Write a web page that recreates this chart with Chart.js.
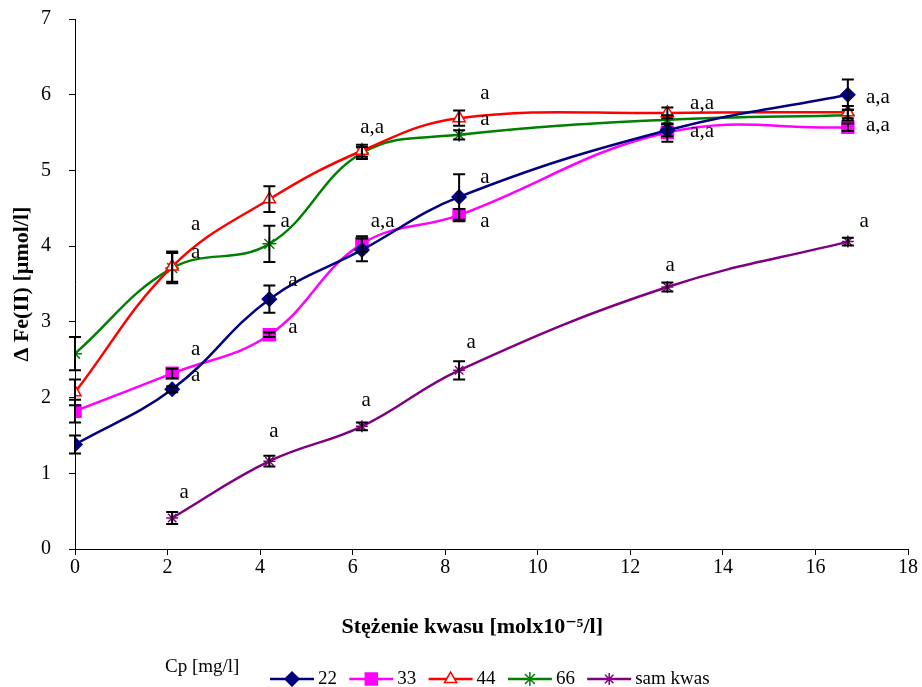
<!DOCTYPE html>
<html><head><meta charset="utf-8">
<script src="https://cdn.jsdelivr.net/npm/chart.js@4.4.1/dist/chart.umd.min.js"></script>
<style>html,body{margin:0;padding:0;background:#fff}</style>
</head><body>
<canvas id="c" width="922" height="687"></canvas>
<script>
// ---- data ----
const xValues = [0, 2.1, 4.2, 6.2, 8.3, 12.8, 16.7];
const seriesNames = ['22', '33', '44', '66', 'sam kwas'];
const s22   = [1.38, 2.11, 3.30, 3.95, 4.65, 5.53, 6.00];
const s33   = [1.82, 2.32, 2.83, 4.03, 4.41, 5.50, 5.57];
const s44   = [2.07, 3.73, 4.62, 5.26, 5.69, 5.76, 5.77];
const s66   = [2.58, 3.71, 4.03, 5.23, 5.47, 5.67, 5.73];
const sKwas = [null, 0.41, 1.16, 1.62, 2.36, 3.46, 4.06];
const err22   = [0.12, 0.04, 0.18, 0.15, 0.30, 0.08, 0.20];
const err33   = [0.15, 0.06, 0.03, 0.10, 0.08, 0.12, 0.05];
const err44   = [0.17, 0.20, 0.17, 0.08, 0.10, 0.07, 0.08];
const err66   = [0.22, 0.20, 0.24, 0.08, 0.06, 0.06, 0.07];
const errKwas = [null, 0.08, 0.07, 0.05, 0.12, 0.06, 0.05];
const xTicks = [0, 2, 4, 6, 8, 10, 12, 14, 16, 18];
const yTicks = [0, 1, 2, 3, 4, 5, 6, 7];
// significance letters (placed in data units)
const annText = ['a','a','a','a','a','a','a','a','a','a','a','a','a','a,a','a,a','a','a','a','a','a,a','a,a','a,a','a,a'];
const annX    = [2.36,4.30,6.29,8.56,12.86,17.05,2.61,2.61,2.61,2.61,4.71,4.71,4.54,6.65,6.42,8.86,8.86,8.86,8.86,13.55,13.55,17.35,17.35];
const annY    = [0.75,1.55,1.96,2.73,3.74,4.32,2.29,2.63,3.92,4.28,3.54,2.93,4.32,4.32,5.57,6.02,5.67,4.91,4.32,5.89,5.52,5.97,5.60];

const seriesValues = [s22, s33, s44, s66, sKwas];
const seriesErrors = [err22, err33, err44, err66, errKwas];
const styles = [
  {color:'#000080', pointStyle:'rectRot', radius:7, bg:'#000080'},
  {color:'#FF00FF', pointStyle:'rect', radius:8.5, bg:'#FF00FF'},
  {color:'#FF0000', pointStyle:'triangle', radius:7, bg:'#FFFFFF'},
  {color:'#008000', pointStyle:'star', radius:7, bg:'#008000'},
  {color:'#800080', pointStyle:'star', radius:6, bg:'#800080'}
];

const datasets = seriesNames.map((name, i) => ({
  label: name,
  data: xValues.map((x, j) => ({x: x, y: seriesValues[i][j]})).filter(p => p.y !== null),
  errors: seriesErrors[i].filter(v => v !== null),
  borderColor: styles[i].color,
  backgroundColor: styles[i].bg,
  pointBorderColor: styles[i].color,
  pointBackgroundColor: styles[i].bg,
  pointStyle: styles[i].pointStyle,
  pointRadius: styles[i].radius,
  pointBorderWidth: 1.5,
  borderWidth: 2.5,
  tension: 0.4,
  fill: false
}));

const SERIF = '"Liberation Serif", "DejaVu Serif", serif';

const errorBarPlugin = {
  id: 'errorBars',
  afterDatasetsDraw(chart) {
    const ctx = chart.ctx;
    const xs = chart.scales.x, ys = chart.scales.y;
    ctx.save();
    ctx.strokeStyle = '#000';
    ctx.lineWidth = 2;
    chart.data.datasets.forEach(ds => {
      ds.data.forEach((p, j) => {
        const e = ds.errors[j];
        if (!e) return;
        const px = xs.getPixelForValue(p.x);
        const y1 = ys.getPixelForValue(p.y + e);
        const y2 = ys.getPixelForValue(p.y - e);
        ctx.beginPath();
        ctx.moveTo(px, y1); ctx.lineTo(px, y2);
        ctx.moveTo(px - 6, y1); ctx.lineTo(px + 6, y1);
        ctx.moveTo(px - 6, y2); ctx.lineTo(px + 6, y2);
        ctx.stroke();
      });
    });
    ctx.restore();
  }
};

const annotationPlugin = {
  id: 'letters',
  afterDraw(chart) {
    const ctx = chart.ctx;
    const xs = chart.scales.x, ys = chart.scales.y;
    ctx.save();
    ctx.fillStyle = '#000';
    ctx.font = '21px ' + SERIF;
    ctx.textAlign = 'center';
    ctx.textBaseline = 'middle';
    annText.forEach((t, i) => {
      ctx.fillText(t, xs.getPixelForValue(annX[i]), ys.getPixelForValue(annY[i]));
    });
    ctx.restore();
  }
};

const legendPlugin = {
  id: 'customLegend',
  afterDraw(chart) {
    const ctx = chart.ctx;
    ctx.save();
    ctx.fillStyle = '#000';
    ctx.font = '19px ' + SERIF;
    ctx.textBaseline = 'middle';
    ctx.textAlign = 'left';
    ctx.fillText('Cp [mg/l]', 165, 667);
    const y = 679;
    chart.data.datasets.forEach((ds, i) => {
      const x0 = 270 + i * 79.3;
      ctx.strokeStyle = ds.borderColor;
      ctx.lineWidth = 2.5;
      ctx.beginPath();
      ctx.moveTo(x0, y); ctx.lineTo(x0 + 44, y);
      ctx.stroke();
      ctx.fillStyle = ds.pointBackgroundColor;
      ctx.strokeStyle = ds.pointBorderColor;
      ctx.lineWidth = 1.5;
      Chart.helpers.drawPoint(ctx, {pointStyle: ds.pointStyle, rotation: 0, borderWidth: 1.5, radius: ds.pointRadius}, x0 + 22, y);
      ctx.fillStyle = '#000';
      ctx.fillText(ds.label, x0 + 48, y);
    });
    ctx.restore();
  }
};

const NB = '\u00A0';
new Chart(document.getElementById('c'), {
  type: 'line',
  data: {datasets},
  options: {
    responsive: false,
    animation: false,
    layout: {padding: {top: 19, right: 14, left: 0, bottom: 0}},
    plugins: {legend: {display: false}, tooltip: {enabled: false}},
    scales: {
      x: {
        type: 'linear', min: 0, max: 18,
        afterBuildTicks: s => { s.ticks = xTicks.map(v => ({value: v})); },
        afterFit: s => { s.height = 138; s.paddingLeft = 0; s.paddingRight = 0; },
        grid: {drawOnChartArea: false, drawTicks: true, tickLength: 6, color: '#000'},
        border: {display: true, color: '#000', width: 1},
        ticks: {color: '#000', font: {family: SERIF, size: 20}, padding: 1, maxRotation: 0},
        title: {display: true, text: 'Stężenie kwasu [molx10⁻⁵/l]' + NB.repeat(7), color: '#000',
                font: {family: SERIF, size: 22, weight: 'bold'}, padding: {top: 0, bottom: 46}}
      },
      y: {
        type: 'linear', min: 0, max: 7,
        afterBuildTicks: s => { s.ticks = yTicks.map(v => ({value: v})); },
        afterFit: s => { s.width = 75; s.paddingTop = 0; s.paddingBottom = 0; },
        grid: {drawOnChartArea: false, drawTicks: true, tickLength: 6, color: '#000'},
        border: {display: true, color: '#000', width: 1},
        ticks: {color: '#000', font: {family: SERIF, size: 20}, padding: 18},
        title: {display: true, text: 'Δ Fe(II) [µmol/l]', color: '#000',
                font: {family: SERIF, size: 22, weight: 'bold'}, padding: {top: 9, bottom: 0}}
      }
    }
  },
  plugins: [errorBarPlugin, annotationPlugin, legendPlugin]
});
</script>
</body></html>
